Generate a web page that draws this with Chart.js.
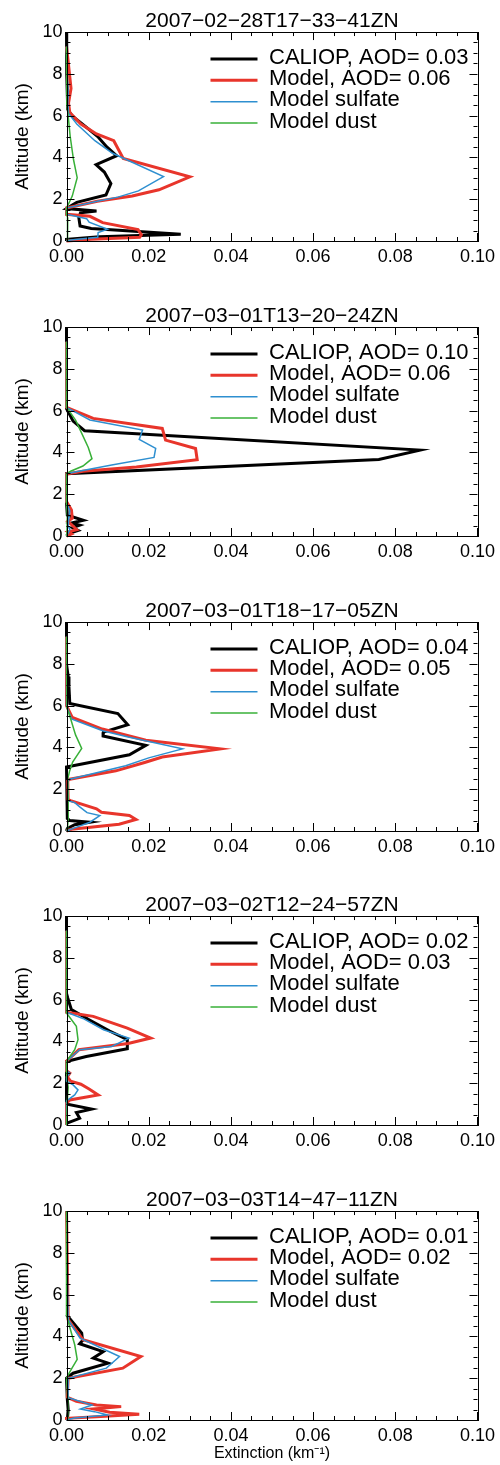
<!DOCTYPE html>
<html>
<head>
<meta charset="utf-8">
<script src="https://cdn.jsdelivr.net/npm/chart.js@4.4.0/dist/chart.umd.min.js"></script>
<style>
  html, body { margin: 0; padding: 0; background: #fff; }
  #wrap { position: relative; width: 500px; height: 1465px; }
  #wrap canvas { position: absolute; left: 0; }
</style>
</head>
<body>
<div id="wrap"></div>
<script>
// panel titles and AOD values
var TITLES = [
    "2007\u221202\u221228T17\u221233\u221241ZN",
    "2007\u221203\u221201T13\u221220\u221224ZN",
    "2007\u221203\u221201T18\u221217\u221205ZN",
    "2007\u221203\u221202T12\u221224\u221257ZN",
    "2007\u221203\u221203T14\u221247\u221211ZN"
];
var AOD_CALIOP = ["0.03", "0.10", "0.04", "0.02", "0.01"];
var AOD_MODEL = ["0.06", "0.06", "0.05", "0.03", "0.02"];

// profiles: [altitude km, extinction km-1]
var CALIOP_1 = [[10, 0], [9.2, 0], [8, 0.0001], [7, 0.0002], [6.3, 0.0003], [6.0, 0.0013], [5.5, 0.0045], [5.0, 0.0076], [4.5, 0.0098], [4.08, 0.0122], [3.65, 0.0072], [3.3, 0.0092], [2.75, 0.0108], [2.2, 0.0096], [1.85, 0.0025], [1.7, 0.0012], [1.55, 0], [1.44, 0.0073], [1.35, 0.0034], [1.12, 0.0030], [0.72, 0.0033], [0.6, 0.006], [0.45, 0.0175], [0.32, 0.0278], [0.2, 0.008], [0.08, 0], [0, 0]];
var MODEL_1 = [[9.3, 0], [8.6, 0.0004], [7.3, 0.0011], [6.6, 0.0005], [6.15, 0.0008], [5.6, 0.0035], [5.12, 0.0073], [4.8, 0.0115], [3.95, 0.0138], [3.07, 0.0300], [2.45, 0.0225], [2.15, 0.0160], [1.9, 0.0075], [1.58, 0], [1.28, 0], [1.18, 0.0057], [0.88, 0.0088], [0.55, 0.0174], [0.3, 0.0182], [0.18, 0.0178], [0.08, 0.006], [0, 0]];
var SULFATE_1 = [[9.3, 0], [8, 0.0001], [7, 0.0004], [6.6, 0.0003], [6.1, 0.0005], [5.6, 0.0025], [4.8, 0.0069], [4.2, 0.0112], [3.08, 0.0236], [2.4, 0.0175], [2.1, 0.0125], [1.9, 0.0075], [1.58, 0], [1.28, 0], [1.07, 0.0049], [0.9, 0.0055], [0.56, 0.0100], [0.4, 0.0077], [0.18, 0.0076], [0.05, 0.001], [0, 0]];
var DUST_1 = [[9.3, 0], [6.5, 0.0001], [6.0, 0.0004], [5.0, 0.0009], [3.9, 0.0017], [3.03, 0.0026], [2.15, 0.0014], [1.9, 0.0008], [1.58, 0], [1.28, 0], [1.1, 0.0003], [0.5, 0.0003], [0, 0.0002]];

var CALIOP_2 = [[10, 0], [9.3, 0], [6.1, 0], [5.8, 0.0008], [5.5, 0.0016], [5.04, 0.0044], [4.11, 0.0860], [3.66, 0.0760], [2.98, 0], [1.6, 0], [1.0, 0.0002], [0.75, 0.0041], [0.62, 0.0012], [0.52, 0.0032], [0.4, 0.0015], [0.27, 0.0028], [0.12, 0.0005], [0, 0]];
var MODEL_2 = [[9.3, 0], [6.16, 0], [5.63, 0.0065], [5.15, 0.0233], [4.59, 0.0241], [4.19, 0.0314], [3.65, 0.0318], [3.3, 0.0170], [3.1, 0.004], [2.97, 0], [1.65, 0], [1.45, 0.0006], [1.25, 0.0012], [0.85, 0.0014], [0.7, 0.0003], [0.55, 0.0012], [0.3, 0.0025], [0.2, 0.0004], [0.1, 0.0012], [0, 0]];
var SULFATE_2 = [[9.3, 0], [6.16, 0], [5.55, 0.0057], [5.07, 0.0185], [4.62, 0.0177], [4.19, 0.0217], [3.76, 0.0213], [3.4, 0.011], [3.1, 0.003], [2.98, 0], [1.6, 0], [1.2, 0.0008], [0.9, 0.0006], [0.5, 0.0004], [0.3, 0.0008], [0.1, 0.0003], [0, 0]];
var DUST_2 = [[9.3, 0], [6.16, 0], [5.55, 0.0022], [5.04, 0.0034], [4.24, 0.0053], [3.7, 0.0062], [3.35, 0.004], [3.1, 0.001], [2.98, 0], [1.6, 0], [1.0, 0.0002], [0, 0.0001]];

var CALIOP_3 = [[10, 0], [9.2, 0], [8, 0], [7.4, 0.0004], [6.9, 0.0006], [6.1, 0.0008], [5.62, 0.0125], [5.09, 0.0149], [4.73, 0.0090], [4.55, 0.0089], [4.1, 0.0193], [3.65, 0.0153], [3.06, 0], [0.6, 0.0002], [0.5, 0.0008], [0.42, 0.0057], [0.3, 0.002], [0.12, 0.0002], [0, 0]];
var MODEL_3 = [[9.3, 0], [6.0, 0], [5.44, 0.0014], [4.88, 0.0087], [4.34, 0.0193], [3.93, 0.0374], [3.54, 0.0233], [3.28, 0.0190], [2.88, 0.0120], [2.48, 0.0008], [2.4, 0.0003], [1.5, 0.0004], [1.45, 0.0010], [1.06, 0.0073], [0.9, 0.0085], [0.74, 0.0153], [0.55, 0.0169], [0.32, 0.0128], [0.08, 0.0012], [0, 0]];
var SULFATE_3 = [[9.3, 0], [6.0, 0], [5.36, 0.0012], [4.8, 0.0088], [4.5, 0.0150], [3.93, 0.0282], [3.5, 0.0200], [3.12, 0.0144], [2.48, 0.0008], [2.4, 0.0003], [1.45, 0.0004], [1.36, 0.0020], [1.14, 0.0033], [0.88, 0.0050], [0.74, 0.0081], [0.42, 0.0057], [0.15, 0.002], [0, 0]];
var DUST_3 = [[9.3, 0], [5.9, 0.0001], [5.5, 0.0008], [4.6, 0.0022], [3.95, 0.0037], [3.3, 0.0015], [2.9, 0.0008], [2.5, 0.0003], [1.4, 0.0004], [0.6, 0.0004], [0, 0.0002]];

var CALIOP_4 = [[10, 0], [9.3, 0], [6.3, 0], [6.08, 0.0003], [5.52, 0.0012], [5.04, 0.0055], [4.5, 0.0105], [4.08, 0.0148], [3.65, 0.0148], [3.28, 0.0048], [3.04, 0], [1.1, 0], [1.0, 0.0002], [0.76, 0.0061], [0.6, 0.0024], [0.32, 0.0032], [0.08, 0], [0, 0]];
var MODEL_4 = [[9.3, 0], [5.4, 0], [5.2, 0.0065], [4.64, 0.0148], [4.16, 0.0205], [3.9, 0.0150], [3.6, 0.0030], [3.05, 0], [2.6, 0], [2.48, 0.0008], [2.3, 0.0002], [2.1, 0.0010], [1.95, 0.0035], [1.72, 0.0055], [1.44, 0.0077], [1.2, 0.0008], [1.04, 0], [0, 0]];
var SULFATE_4 = [[9.3, 0], [5.4, 0], [5.1, 0.004], [4.56, 0.0090], [4.16, 0.0152], [3.76, 0.0110], [3.6, 0.0032], [3.05, 0], [2.6, 0], [2.48, 0.0008], [2.3, 0], [2.1, 0], [1.92, 0.0016], [1.68, 0.0028], [1.44, 0.0020], [1.15, 0], [0, 0]];
var DUST_4 = [[9.3, 0], [5.36, 0], [4.72, 0.0024], [4.08, 0.0028], [3.6, 0.002], [3.1, 0.0002], [3.04, 0], [2.5, 0], [1.8, 0.0004], [1.2, 0.0002], [0, 0]];

var CALIOP_5 = [[5.04, 0], [4.16, 0.0037], [3.8, 0.0039], [3.65, 0.0032], [3.27, 0.0089], [2.96, 0.0065], [2.72, 0.0101], [2.24, 0.0016], [2.0, 0], [1.0, 0.0002], [0.5, 0.0004], [0, 0.0002]];
var MODEL_5 = [[10, 0], [4.8, 0.0004], [3.84, 0.0040], [3.04, 0.0181], [2.48, 0.0137], [2.0, 0.0004], [1.1, 0.0002], [1.07, 0.0004], [0.9, 0.0024], [0.72, 0.0073], [0.64, 0.0133], [0.53, 0.0066], [0.37, 0.0105], [0.27, 0.0177], [0.16, 0.0073], [0.08, 0], [0, 0]];
var SULFATE_5 = [[10, 0], [4.8, 0.0004], [3.92, 0.0033], [3.04, 0.0129], [2.48, 0.0097], [2.0, 0.0004], [1.07, 0.0004], [0.72, 0.0062], [0.53, 0.0034], [0.4, 0.0068], [0.24, 0.0100], [0.1, 0.002], [0, 0]];
var DUST_5 = [[10, 0], [5.0, 0], [3.6, 0.002], [2.9, 0.0026], [2.3, 0.0008], [2.0, 0], [1.0, 0.0003], [0, 0.0003]];

var PANELS = [
    [CALIOP_1, MODEL_1, SULFATE_1, DUST_1],
    [CALIOP_2, MODEL_2, SULFATE_2, DUST_2],
    [CALIOP_3, MODEL_3, SULFATE_3, DUST_3],
    [CALIOP_4, MODEL_4, SULFATE_4, DUST_4],
    [CALIOP_5, MODEL_5, SULFATE_5, DUST_5]
];

var COLORS = ["#000000", "#e8352b", "#2e8fd0", "#38b038"];
var WIDTHS = [3, 3, 1.5, 1.5];
var CANVAS_TOP = [0, 295, 590, 884, 1179];
var CANVAS_H = [295, 295, 294, 295, 286];
var PLOT_BOTTOM = 241;

Chart.defaults.font.family = "'Liberation Sans', Arial, Helvetica, sans-serif";
Chart.defaults.color = "#000";

// frame, inward major/minor ticks and in-plot legend
var framePlugin = {
    id: "frame",
    afterDatasetsDraw: function (chart) {
        var ctx = chart.ctx;
        var a = chart.chartArea;
        var xs = chart.scales.x;
        var ys = chart.scales.y;
        var i, v, p, len, major;

        ctx.save();
        ctx.strokeStyle = "#000";
        ctx.lineWidth = 1;
        ctx.strokeRect(Math.round(a.left) + 0.5, Math.round(a.top) + 0.5,
            Math.round(a.right - a.left), Math.round(a.bottom - a.top));

        ctx.beginPath();
        for (i = 0; i <= 20; i++) {
            v = i * 0.005;
            major = i % 4 === 0;
            len = major ? 8 : 4;
            p = Math.round(xs.getPixelForValue(v)) + 0.5;
            ctx.moveTo(p, a.bottom); ctx.lineTo(p, a.bottom - len);
            ctx.moveTo(p, a.top); ctx.lineTo(p, a.top + len);
        }
        for (i = 0; i <= 20; i++) {
            v = i * 0.5;
            major = i % 4 === 0;
            len = major ? 8 : 4;
            p = Math.round(ys.getPixelForValue(v)) + 0.5;
            ctx.moveTo(a.left, p); ctx.lineTo(a.left + len, p);
            ctx.moveTo(a.right, p); ctx.lineTo(a.right - len, p);
        }
        ctx.stroke();

        // legend
        ctx.font = "22px 'Liberation Sans', Arial, sans-serif";
        ctx.textBaseline = "middle";
        ctx.textAlign = "left";
        ctx.fillStyle = "#000";
        chart.data.datasets.forEach(function (ds, k) {
            var y = a.top + 27 + k * 21.3;
            ctx.beginPath();
            ctx.strokeStyle = ds.borderColor;
            ctx.lineWidth = ds.borderWidth;
            ctx.moveTo(a.left + 144, y);
            ctx.lineTo(a.left + 191, y);
            ctx.stroke();
            ctx.fillText(ds.label, a.left + 202.5, y - 1.5);
        });
        ctx.restore();
    }
};

function toPoints(profile) {
    return profile.map(function (p) {
        return { x: p[1], y: p[0] };
    });
}

function makePanel(idx) {
    var wrap = document.getElementById("wrap");
    var canvas = document.createElement("canvas");
    var h = CANVAS_H[idx];
    var last = idx === PANELS.length - 1;
    var labels = [
        "CALIOP, AOD= " + AOD_CALIOP[idx],
        "Model, AOD= " + AOD_MODEL[idx],
        "Model sulfate",
        "Model dust"
    ];

    canvas.width = 500;
    canvas.height = h;
    canvas.style.top = CANVAS_TOP[idx] + "px";
    wrap.appendChild(canvas);

    new Chart(canvas.getContext("2d"), {
        type: "scatter",
        data: {
            datasets: PANELS[idx].map(function (profile, k) {
                return {
                    label: labels[k],
                    data: toPoints(profile),
                    showLine: true,
                    borderColor: COLORS[k],
                    backgroundColor: COLORS[k],
                    borderWidth: WIDTHS[k],
                    pointRadius: 0,
                    tension: 0,
                    clip: false,
                    order: 3 - k
                };
            })
        },
        options: {
            responsive: false,
            animation: false,
            events: [],
            layout: { padding: { left: 0, right: 19, top: 0, bottom: 0 } },
            plugins: {
                legend: { display: false },
                tooltip: { enabled: false },
                title: {
                    display: true,
                    fullSize: false,
                    text: TITLES[idx],
                    color: "#000",
                    font: { size: 21, weight: "normal", lineHeight: 1.05 },
                    padding: { top: 10, bottom: 0 }
                }
            },
            scales: {
                x: {
                    type: "linear",
                    min: 0,
                    max: 0.1,
                    ticks: {
                        stepSize: 0.02,
                        maxRotation: 0,
                        padding: 5,
                        font: { size: 18 },
                        callback: function (value) {
                            return Number(value).toFixed(2);
                        }
                    },
                    grid: { display: false, drawTicks: false },
                    border: { display: false },
                    title: {
                        display: last,
                        text: "Extinction (km\u207B\u00B9)",
                        font: { size: 16 },
                        padding: { top: 0, bottom: 2 }
                    },
                    afterFit: function (scale) {
                        scale.height = h - PLOT_BOTTOM;
                    }
                },
                y: {
                    type: "linear",
                    min: 0,
                    max: 10,
                    ticks: { stepSize: 2, padding: 4, font: { size: 18 } },
                    grid: { display: false, drawTicks: false },
                    border: { display: false },
                    title: {
                        display: true,
                        text: "Altitude (km)",
                        font: { size: 19 },
                        padding: { top: 11, bottom: 0 }
                    },
                    afterFit: function (scale) {
                        scale.width = 66.5;
                    }
                }
            }
        },
        plugins: [framePlugin]
    });
}

for (var n = 0; n < PANELS.length; n++) {
    makePanel(n);
}
</script>
</body>
</html>
